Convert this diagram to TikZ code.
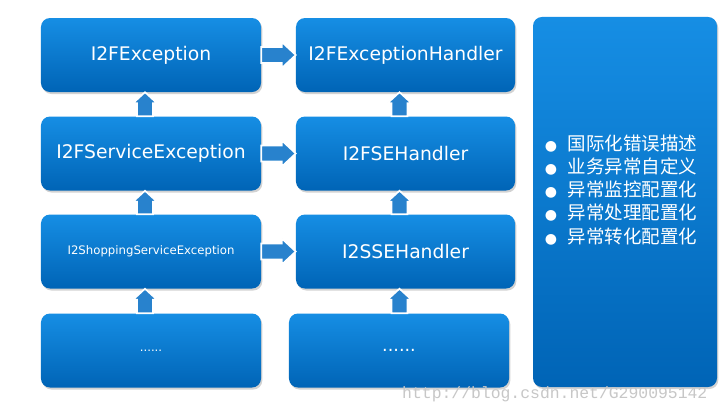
\documentclass[tikz,border=0pt]{standalone}
\usepackage{fontspec}
\usepackage{tikz}
\usetikzlibrary{calc}
\usetikzlibrary{shadows}
\newfontfamily\boxfont{DejaVu Sans}
\newfontfamily\cjk{Noto Sans CJK SC}
\newfontfamily\wmfont{Liberation Mono}
\definecolor{boxtop}{RGB}{22,142,228}
\definecolor{boxbot}{RGB}{0,100,182}
\definecolor{arrowblue}{RGB}{40,130,205}
\tikzset{
  blkbox/.style={rectangle, rounded corners=0.27cm, top color=boxtop, bottom color=boxbot,
    draw=none, text=white, font=\boxfont\fontsize{16}{19}\selectfont,
    minimum width=6.6cm, minimum height=2.22cm, inner sep=0pt,
    drop shadow={opacity=0.35, shadow xshift=0.04cm, shadow yshift=-0.06cm}},
  blkarrow/.style={fill=arrowblue, draw=white, line width=1.4pt, line join=miter}
}
% right arrow between two boxes of one row
\newcommand{\rarrow}[2]{%
  \draw[blkarrow] ($(#1.east)+(0,-8)$) -- ($(#2.west)+(-14,-8)$) -- ($(#2.west)+(-14,-13)$)
    -- (#2.west) -- ($(#2.west)+(-14,13)$) -- ($(#2.west)+(-14,8)$) -- ($(#1.east)+(0,8)$) -- cycle;}
% up arrow from lower box #1 to upper box #2
\newcommand{\uarrow}[2]{%
  \draw[blkarrow] ($(#2.south |- #1.north)+(-14,0)$) -- ($(#2.south)+(-14,11)$) -- ($(#2.south)+(-18,11)$)
    -- ($(#2.south)+(-6,0)$) -- ($(#2.south)+(6,11)$) -- ($(#2.south)+(2,11)$) -- ($(#2.south |- #1.north)+(2,0)$) -- cycle;}

\begin{document}
\begin{tikzpicture}[x=0.03cm,y=-0.03cm]
\useasboundingbox (0,0) rectangle (722,414);
\fill[white] (0,0) rectangle (722,414);
% exceptions
\node[blkbox] (exc1) at (151,55) {I2FException};
\node[blkbox] (exc2) at (151,153.5) {I2FServiceException};
\node[blkbox, font=\boxfont\fontsize{10}{12}\selectfont] (exc3) at (151,251.5) {I2ShoppingServiceException};
\node[blkbox, font=\boxfont\fontsize{10}{12}\selectfont] (exc4) at (151,350.5) {......};
% handlers
\node[blkbox, minimum width=6.57cm] (hdl1) at (405.5,55) {I2FExceptionHandler};
\node[blkbox, minimum width=6.57cm] (hdl2) at (405.5,153.5) {I2FSEHandler};
\node[blkbox, minimum width=6.57cm] (hdl3) at (405.5,251.5) {I2SSEHandler};
\node[blkbox, font=\boxfont\fontsize{15}{18}\selectfont] (hdl4) at (399,350.5) {......};
% features
\node[blkbox, minimum width=5.52cm, minimum height=11.1cm] (feat) at (625,202) {};
\node[text=white, font=\cjk\fontsize{15.8}{19.8}\selectfont, align=left, inner sep=0pt] (list) at (621,192)
  {\begin{tabular}{@{}l@{\hspace{9pt}}l@{}}
   {\boxfont\fontsize{12}{12}\selectfont ●} & 国际化错误描述\\
   {\boxfont\fontsize{12}{12}\selectfont ●} & 业务异常自定义\\
   {\boxfont\fontsize{12}{12}\selectfont ●} & 异常监控配置化\\
   {\boxfont\fontsize{12}{12}\selectfont ●} & 异常处理配置化\\
   {\boxfont\fontsize{12}{12}\selectfont ●} & 异常转化配置化
   \end{tabular}};
% arrows
\rarrow{exc1}{hdl1}
\rarrow{exc2}{hdl2}
\rarrow{exc3}{hdl3}
\uarrow{exc2}{exc1}
\uarrow{exc3}{exc2}
\uarrow{exc4}{exc3}
\uarrow{hdl2}{hdl1}
\uarrow{hdl3}{hdl2}
\uarrow{hdl4}{hdl3}
% watermark
\node[anchor=base west, inner sep=0pt, text=black!22, font=\wmfont\fontsize{14}{14}\selectfont] (mark) at (402,398) {http://blog.csdn.net/G290095142};
\end{tikzpicture}
\end{document}
